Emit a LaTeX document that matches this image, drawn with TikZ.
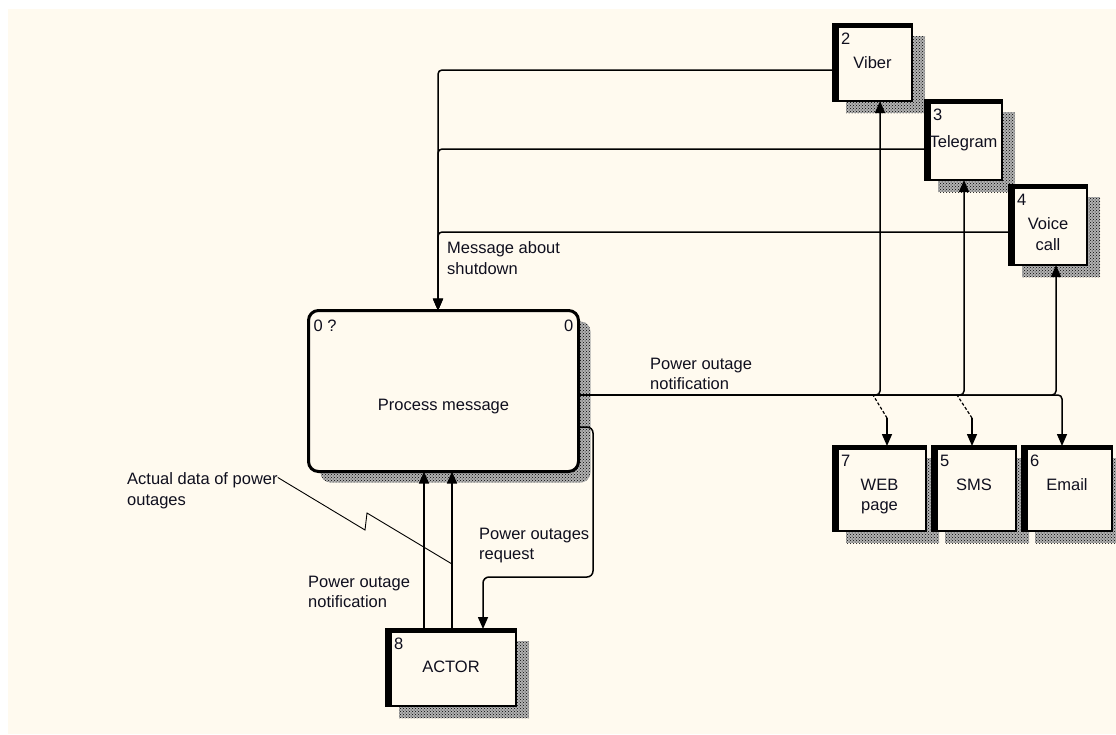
\documentclass[tikz,border=0pt]{standalone}
\usepackage{fontspec}
\setmainfont{Liberation Sans}
\usetikzlibrary{arrows.meta,positioning,shadows,patterns}

\definecolor{cream}{RGB}{255,250,239}
\definecolor{ink}{RGB}{15,15,30}

\tikzset{
  entity/.style={draw, line width=2pt, fill=cream, inner sep=0pt, outer sep=0pt,
    general shadow={shadow xshift=13pt, shadow yshift=-12pt, fill=black!30},
    general shadow={shadow xshift=13pt, shadow yshift=-12pt, pattern=crosshatch dots, pattern color=black},
    path picture={
      \fill[black] (path picture bounding box.north west) rectangle ([xshift=6pt]path picture bounding box.south west);
      \fill[black] (path picture bounding box.north west) rectangle ([yshift=-4pt]path picture bounding box.north east);
    }},
  process/.style={draw, line width=3pt, rounded corners=10pt, fill=cream, inner sep=0pt, outer sep=0pt,
    general shadow={shadow xshift=12pt, shadow yshift=-11pt, fill=black!30},
    general shadow={shadow xshift=12pt, shadow yshift=-11pt, pattern=crosshatch dots, pattern color=black}},
  numtext/.style={anchor=north west, inner sep=0pt, xshift=8pt, yshift=-8.5pt},
  enttext/.style={anchor=north, inner sep=0pt, align=center, yshift=-32.5pt},
  flowtext/.style={anchor=north west, inner sep=0pt, align=left},
  flow/.style={line width=1.5pt, rounded corners=4pt, -{Triangle[length=12pt,width=10pt]}},
  jump/.style={line width=1.2pt, dash pattern=on 3pt off 2pt},
  leader/.style={line width=0.9pt}
}

\begin{document}
\begin{tikzpicture}[x=1pt, y=-1pt, font=\fontsize{16.5pt}{20.5pt}\selectfont, every node/.append style={text=ink}]

\useasboundingbox (0,0) rectangle (1116,734);
\fill[white] (0,0) rectangle (1116,734);
\fill[cream] (8,9) rectangle (1116,734);

% process
\node[process, minimum width=270pt, minimum height=161pt,
  label={[numtext, xshift=-3pt, yshift=-1pt]north west:0 ?},
  label={[numtext, anchor=north east, xshift=-13pt, yshift=-1pt]north east:0},
  label={[enttext, yshift=-55.5pt]north:Process message}] (proc) at (443.5,391) {};

% external entities
\node[entity, minimum width=79pt, minimum height=77pt,
  label={[numtext]north west:2}, label={[enttext]north:Viber}] (viber) at (872.5,62.5) {};
\node[entity, minimum width=77pt, minimum height=80pt,
  label={[numtext]north west:3}, label={[enttext, yshift=-2.5pt]north:Telegram}] (telegram) at (963.5,140) {};
\node[entity, minimum width=78pt, minimum height=80pt,
  label={[numtext]north west:4}, label={[enttext]north:Voice\\call}] (voice) at (1048,225) {};

\node[entity, minimum width=93pt, minimum height=85pt,
  label={[numtext]north west:7}, label={[enttext]north:WEB\\page}] (web) at (879.5,488.5) {};
\node[entity, minimum width=84pt, minimum height=85pt, right=6pt of web,
  label={[numtext]north west:5}, label={[enttext]north:SMS}] (sms) {};
\node[entity, minimum width=90pt, minimum height=85pt, right=6pt of sms,
  label={[numtext]north west:6}, label={[enttext]north:Email}] (email) {};

\node[entity, minimum width=130pt, minimum height=77pt,
  label={[numtext]north west:8}, label={[enttext, yshift=1pt]north:ACTOR}] (actor) at (451,667.5) {};

% flow labels
\node[flowtext] (shutdowntxt) at (447,241.5) {Message about\\shutdown};
\node[flowtext] (notifytxt) at (650,357.5) {Power outage\\notification};
\node[flowtext] (requesttxt) at (479,527.5) {Power outages\\request};
\node[flowtext] (actnotifytxt) at (308,575.5) {Power outage\\notification};
\node[flowtext] (actualtxt) at (127,472.5) {Actual data of power\\outages};

% message about shutdown
\draw[flow] ([yshift=-7.5pt]viber.west) -| ([xshift=-5.5pt]proc.north);
\draw[flow] ([yshift=-9pt]telegram.west) -| ([xshift=-5.5pt]proc.north);
\draw[flow] ([yshift=-7pt]voice.west) -| ([xshift=-5.5pt]proc.north);

% power outage notification
\draw[flow] ([yshift=-4pt]proc.east) -| ([xshift=-5pt]email.north);
\draw[flow] ([yshift=-4pt]proc.east) -| ([xshift=7.5pt]viber.south);
\draw[flow] ([yshift=-4pt]proc.east) -| ([xshift=0.5pt]telegram.south);
\draw[flow] ([yshift=-4pt]proc.east) -| ([xshift=8pt]voice.south);

\coordinate (webjump) at ([shift={(7.5,-28)}]web.north);
\coordinate (smsjump) at ([shift={(-2,-28)}]sms.north);
\draw[jump] (webjump) -- ++(-14,-23);
\draw[jump] (smsjump) -- ++(-15,-23);
\draw[flow] (webjump) -- ([xshift=7.5pt]web.north);
\draw[flow] (smsjump) -- ([xshift=-2pt]sms.north);

% actor
\draw[flow] ([xshift=-27pt]actor.north) -- ([xshift=-27pt]actor.north |- proc.south);
\draw[flow] ([xshift=1pt]actor.north) -- ([xshift=1pt]actor.north |- proc.south);

\coordinate (reqbend) at (593,577);
\draw[flow, rounded corners=6pt] ([yshift=-36pt]proc.east) -| (reqbend) -| ([xshift=32pt]actor.north);

\draw[leader] ([yshift=-5pt]actualtxt.north east) -- (365,530) -- (367,513) -- ([shift={(1,-65)}]actor.north);

\end{tikzpicture}
\end{document}
